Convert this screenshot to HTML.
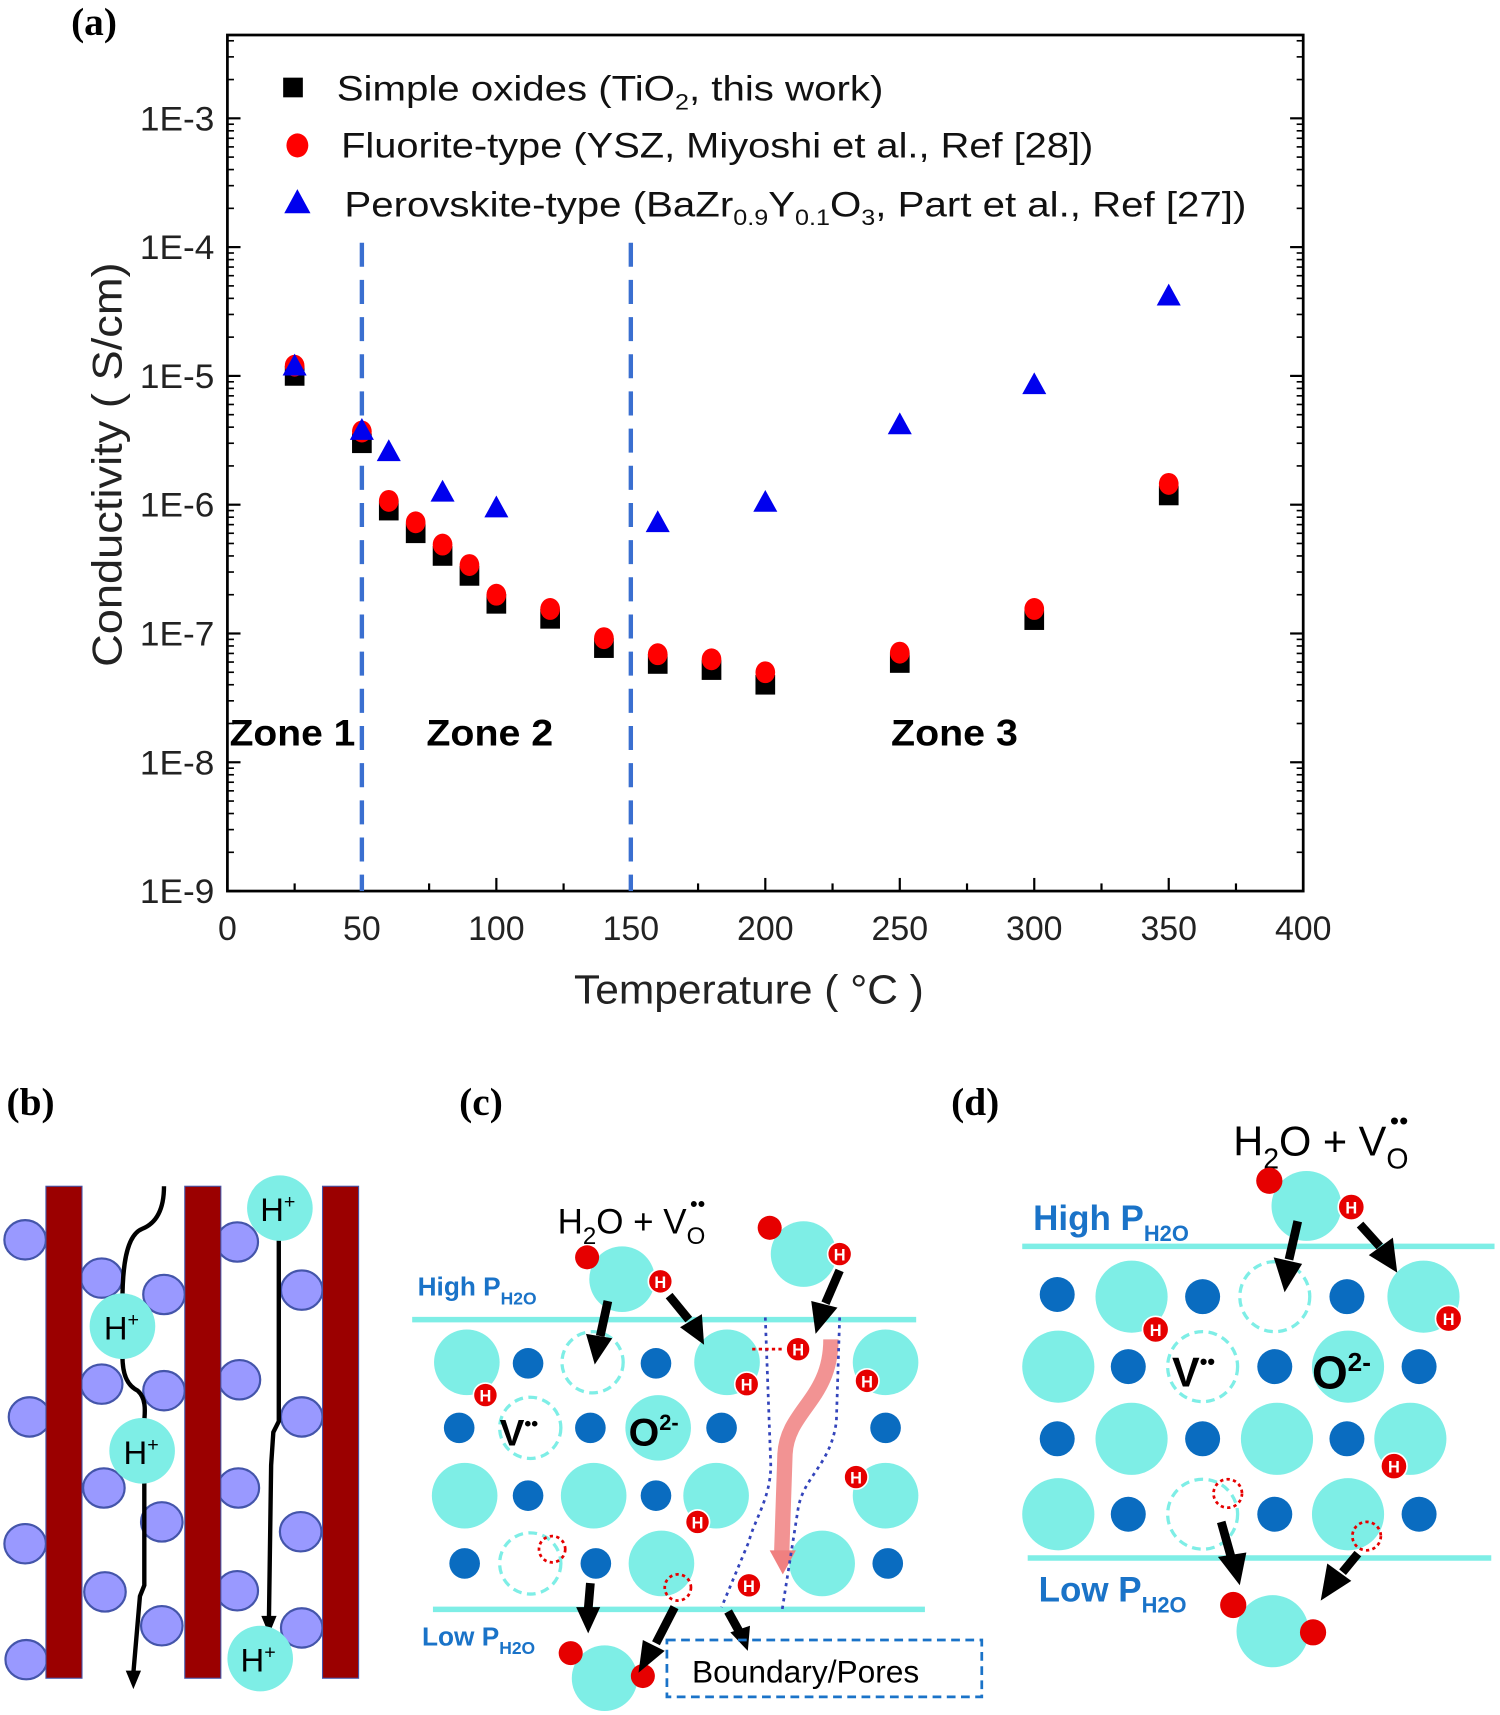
<!DOCTYPE html>
<html><head><meta charset="utf-8"><style>
html,body{margin:0;padding:0;background:#fff;}
svg{display:block;font-family:"Liberation Sans",sans-serif;}
</style></head><body>
<svg id="fig" width="1500" height="1715" viewBox="0 0 1372 1568.6" xmlns="http://www.w3.org/2000/svg">
<rect width="1372" height="1568.6" fill="#fff"/>
<text x="65" y="32" font-family="Liberation Serif" font-weight="bold" font-size="36">(a)</text>
<g id="chart"></g>

<!-- Panel b -->
<g>
<text x="6" y="1020" font-family="Liberation Serif" font-weight="bold" font-size="36">(b)</text>
<g fill="#9999ff" stroke="#4455aa" stroke-width="2">
<ellipse cx="23" cy="1134" rx="19" ry="18"/><ellipse cx="27" cy="1296" rx="19" ry="18"/><ellipse cx="23" cy="1412" rx="19" ry="18"/><ellipse cx="24" cy="1518" rx="19" ry="18"/>
<ellipse cx="93" cy="1169" rx="19" ry="18"/><ellipse cx="93" cy="1266" rx="19" ry="18"/><ellipse cx="95" cy="1361" rx="19" ry="18"/><ellipse cx="96" cy="1456" rx="19" ry="18"/>
<ellipse cx="150" cy="1184" rx="19" ry="18"/><ellipse cx="150" cy="1272" rx="19" ry="18"/><ellipse cx="148" cy="1392" rx="19" ry="18"/><ellipse cx="148" cy="1487" rx="19" ry="18"/>
<ellipse cx="217" cy="1136" rx="19" ry="18"/><ellipse cx="219" cy="1262" rx="19" ry="18"/><ellipse cx="218" cy="1361" rx="19" ry="18"/><ellipse cx="217" cy="1455" rx="19" ry="18"/>
<ellipse cx="276" cy="1180" rx="19" ry="18"/><ellipse cx="276" cy="1296" rx="19" ry="18"/><ellipse cx="275" cy="1401" rx="19" ry="18"/><ellipse cx="276" cy="1489" rx="19" ry="18"/>
</g>
<g fill="#9b0000" stroke="#4455aa" stroke-width="1">
<rect x="42" y="1085" width="33" height="450"/><rect x="169" y="1085" width="33" height="450"/><rect x="295" y="1085" width="33" height="450"/>
</g>
<g fill="none" stroke="#000" stroke-width="4">
<path d="M150 1085 C150 1110 140 1120 130 1124 C115 1130 112 1160 112 1190"/>
<path d="M112 1240 C112 1260 118 1268 126 1272 C135 1280 132 1295 132 1300"/>
<path d="M132 1355 L132 1450 L128 1460 L122 1530"/>
<path d="M255 1133 L255 1300 L250 1310 L248 1340 L246 1480"/>
</g>
<path d="M115 1528 L129 1528 L122 1545Z M239 1478 L253 1478 L246 1495Z" fill="#000"/>
<g fill="#7eeee6"><circle cx="112" cy="1213" r="30"/><circle cx="130" cy="1327" r="30"/><circle cx="256" cy="1105" r="30"/><circle cx="238" cy="1517" r="30"/></g>
<g font-size="30" fill="#000"><text x="95" y="1225">H<tspan font-size="18" dy="-12">+</tspan></text><text x="113" y="1339">H<tspan font-size="18" dy="-12">+</tspan></text><text x="238" y="1117">H<tspan font-size="18" dy="-12">+</tspan></text><text x="220" y="1529">H<tspan font-size="18" dy="-12">+</tspan></text></g>
</g>

<!-- Panel c -->
<g>
<text x="420" y="1020" font-family="Liberation Serif" font-weight="bold" font-size="36">(c)</text>
<line x1="377" y1="1207" x2="838" y2="1207" stroke="#7eeee6" stroke-width="5"/>
<line x1="396" y1="1472" x2="846" y2="1472" stroke="#7eeee6" stroke-width="5"/>
<text x="382" y="1185" font-size="24" font-weight="bold" fill="#1a73c8">High P<tspan font-size="16" dy="8">H2O</tspan></text>
<text x="386" y="1505" font-size="24" font-weight="bold" fill="#1a73c8">Low P<tspan font-size="16" dy="8">H2O</tspan></text>
<text x="510" y="1128" font-size="32">H<tspan font-size="22" dy="10">2</tspan><tspan dy="-10">O + V</tspan><tspan font-size="22" dy="10">O</tspan><tspan font-size="20" dy="-30" dx="-14">••</tspan></text>
<g fill="#7eeee6">
<circle cx="569" cy="1170" r="30"/><circle cx="735" cy="1147" r="30"/>
<circle cx="427" cy="1246" r="30"/><circle cx="665" cy="1246" r="30"/><circle cx="810" cy="1246" r="30"/>
<circle cx="602" cy="1306" r="30"/>
<circle cx="425" cy="1368" r="30"/><circle cx="543" cy="1368" r="30"/><circle cx="655" cy="1368" r="30"/><circle cx="810" cy="1368" r="30"/>
<circle cx="605" cy="1430" r="30"/><circle cx="752" cy="1430" r="30"/>
<circle cx="553" cy="1535" r="30"/>
</g>
<g fill="none" stroke="#7eeee6" stroke-width="3" stroke-dasharray="8 5">
<circle cx="542" cy="1246" r="28"/><circle cx="485" cy="1306" r="28"/><circle cx="485" cy="1430" r="28"/>
</g>
<g fill="#0a6cc0">
<circle cx="483" cy="1247" r="14"/><circle cx="600" cy="1247" r="14"/>
<circle cx="420" cy="1306" r="14"/><circle cx="540" cy="1306" r="14"/><circle cx="660" cy="1306" r="14"/><circle cx="810" cy="1306" r="14"/>
<circle cx="483" cy="1368" r="14"/><circle cx="600" cy="1368" r="14"/>
<circle cx="425" cy="1430" r="14"/><circle cx="545" cy="1430" r="14"/><circle cx="812" cy="1430" r="14"/>
</g>
<text x="457" y="1322" font-size="34" font-weight="bold">V<tspan font-size="18" dy="-14">••</tspan></text>
<text x="575" y="1322" font-size="36" font-weight="bold">O<tspan font-size="20" dy="-14">2-</tspan></text>
<path d="M760 1225 C760 1280 720 1290 718 1330 L715 1420" fill="none" stroke="#f08080" stroke-width="14" opacity="0.85"/>
<path d="M704 1418 L728 1418 L716 1440Z" fill="#f08080"/>
<g fill="none" stroke="#3344bb" stroke-width="2.5" stroke-dasharray="3 4">
<path d="M700 1205 L705 1340 C705 1370 690 1390 685 1410 L660 1470"/>
<path d="M768 1205 L765 1300 C760 1340 735 1350 730 1380 L715 1475"/>
</g>
<line x1="688" y1="1234" x2="718" y2="1234" stroke="#e60000" stroke-width="2.5" stroke-dasharray="3 3"/>
<g fill="#e60000"><circle cx="537" cy="1150" r="11"/><circle cx="704" cy="1123" r="11"/><circle cx="522" cy="1512" r="11"/><circle cx="588" cy="1533" r="11"/></g>
<g class="hp" fill="#e60000" stroke="#fff" stroke-width="1.5">
<circle cx="604" cy="1172" r="11"/><circle cx="768" cy="1147" r="11"/><circle cx="730" cy="1234" r="11"/><circle cx="683" cy="1266" r="11"/><circle cx="793" cy="1263" r="11"/><circle cx="444" cy="1276" r="11"/><circle cx="783" cy="1351" r="11"/><circle cx="638" cy="1392" r="11"/><circle cx="685" cy="1450" r="11"/>
</g>
<g fill="none" stroke="#e60000" stroke-width="2.5" stroke-dasharray="3 3"><circle cx="505" cy="1417" r="12"/><circle cx="620" cy="1452" r="12"/></g>
<g stroke="#000" stroke-width="8" fill="none">
<line x1="556" y1="1190" x2="549" y2="1222"/><line x1="612" y1="1185" x2="630" y2="1207"/><line x1="768" y1="1162" x2="755" y2="1192"/>
<line x1="540" y1="1448" x2="538" y2="1472"/><line x1="617" y1="1470" x2="600" y2="1503"/><line x1="666" y1="1474" x2="676" y2="1492"/>
</g>
<g fill="#000"><path d="M536 1220 L560 1224 L544 1248Z"/><path d="M622 1214 L642 1202 L644 1230Z"/><path d="M742 1190 L766 1196 L746 1220Z"/><path d="M527 1470 L549 1470 L538 1494Z"/><path d="M588 1500 L608 1510 L584 1530Z"/><path d="M668 1493 L686 1487 L684 1510Z"/></g>
<rect x="610" y="1500" width="288" height="52" fill="none" stroke="#1a73c8" stroke-width="2.5" stroke-dasharray="8 5"/>
<text x="633" y="1539" font-size="29">Boundary/Pores</text>
</g>

<!-- Panel d -->
<g>
<text x="870" y="1020" font-family="Liberation Serif" font-weight="bold" font-size="36">(d)</text>
<line x1="935" y1="1140" x2="1367" y2="1140" stroke="#7eeee6" stroke-width="5"/>
<line x1="940" y1="1425" x2="1364" y2="1425" stroke="#7eeee6" stroke-width="5"/>
<text x="945" y="1125" font-size="32" font-weight="bold" fill="#1a73c8">High P<tspan font-size="20" dy="10">H2O</tspan></text>
<text x="950" y="1465" font-size="32" font-weight="bold" fill="#1a73c8">Low P<tspan font-size="20" dy="10">H2O</tspan></text>
<text x="1128" y="1057" font-size="38">H<tspan font-size="26" dy="12">2</tspan><tspan dy="-12">O + V</tspan><tspan font-size="26" dy="12">O</tspan><tspan font-size="24" dy="-36" dx="-17">••</tspan></text>
<g fill="#7eeee6">
<circle cx="1195" cy="1103" r="32"/>
<circle cx="1035" cy="1186" r="33"/><circle cx="1302" cy="1186" r="33"/>
<circle cx="968" cy="1250" r="33"/><circle cx="1233" cy="1250" r="33"/>
<circle cx="1035" cy="1316" r="33"/><circle cx="1168" cy="1316" r="33"/><circle cx="1290" cy="1316" r="33"/>
<circle cx="968" cy="1385" r="33"/><circle cx="1233" cy="1385" r="33"/>
<circle cx="1164" cy="1492" r="33"/>
</g>
<g fill="none" stroke="#7eeee6" stroke-width="3" stroke-dasharray="8 5"><circle cx="1166" cy="1186" r="32"/><circle cx="1100" cy="1250" r="32"/><circle cx="1100" cy="1385" r="32"/></g>
<g fill="#0a6cc0">
<circle cx="967" cy="1184" r="16"/><circle cx="1100" cy="1186" r="16"/><circle cx="1232" cy="1186" r="16"/>
<circle cx="1032" cy="1250" r="16"/><circle cx="1166" cy="1250" r="16"/><circle cx="1298" cy="1250" r="16"/>
<circle cx="967" cy="1316" r="16"/><circle cx="1100" cy="1316" r="16"/><circle cx="1232" cy="1316" r="16"/>
<circle cx="1032" cy="1385" r="16"/><circle cx="1166" cy="1385" r="16"/><circle cx="1298" cy="1385" r="16"/>
</g>
<text x="1072" y="1268" font-size="38" font-weight="bold">V<tspan font-size="20" dy="-16">••</tspan></text>
<text x="1200" y="1270" font-size="42" font-weight="bold">O<tspan font-size="24" dy="-16">2-</tspan></text>
<g fill="#e60000"><circle cx="1161" cy="1080" r="12"/><circle cx="1128" cy="1468" r="12"/><circle cx="1201" cy="1493" r="12"/></g>
<g class="hp" fill="#e60000" stroke="#fff" stroke-width="1.5"><circle cx="1236" cy="1104" r="12"/><circle cx="1325" cy="1206" r="12"/><circle cx="1057" cy="1216" r="12"/><circle cx="1275" cy="1341" r="12"/></g>
<g fill="none" stroke="#e60000" stroke-width="2.5" stroke-dasharray="3 3"><circle cx="1123" cy="1366" r="13"/><circle cx="1250" cy="1405" r="13"/></g>
<g stroke="#000" stroke-width="8" fill="none">
<line x1="1187" y1="1117" x2="1179" y2="1152"/><line x1="1244" y1="1120" x2="1262" y2="1140"/>
<line x1="1117" y1="1392" x2="1126" y2="1424"/><line x1="1242" y1="1421" x2="1228" y2="1438"/>
</g>
<g fill="#000"><path d="M1165 1150 L1191 1156 L1175 1182Z"/><path d="M1252 1148 L1274 1132 L1278 1164Z"/><path d="M1114 1424 L1140 1420 L1134 1450Z"/><path d="M1214 1430 L1236 1446 L1208 1464Z"/></g>
</g>
</svg>

<script>
const seriesXTi = [25,50,60,70,80,90,100,120,140,160,180,200,250,300,350];
const valuesTiO2 = [1.0e-5,3.0e-6,9.0e-7,6.0e-7,4.0e-7,2.8e-7,1.7e-7,1.3e-7,7.7e-8,5.8e-8,5.2e-8,4.0e-8,5.9e-8,1.27e-7,1.18e-6];
const valuesYSZ = [1.2e-5,3.7e-6,1.07e-6,7.3e-7,4.9e-7,3.4e-7,2.0e-7,1.55e-7,9.2e-8,6.9e-8,6.3e-8,5.0e-8,7.1e-8,1.55e-7,1.45e-6];
const seriesXBZY = [25,50,60,80,100,160,200,250,300,350];
const valuesBZY = [1.2e-5,3.8e-6,2.6e-6,1.26e-6,9.5e-7,7.3e-7,1.05e-6,4.2e-6,8.6e-6,4.2e-5];
const xTickLabels = [0,50,100,150,200,250,300,350,400];
const yTickExps = [-9,-8,-7,-6,-5,-4,-3];
const zoneBoundaries = [50,150];

const NS="http://www.w3.org/2000/svg";
const g=document.getElementById('chart');
const L=208,R=1192,T=32,B=815,DEC=117.8;
function xs(t){return L+t/400*(R-L);}
function ys(v){return B-(Math.log10(v)+9)*DEC;}
function mk(tag,attrs,parent){const e=document.createElementNS(NS,tag);for(const k in attrs)e.setAttribute(k,attrs[k]);(parent||g).appendChild(e);return e;}
function sp(parent,txt,attrs){const s=mk('tspan',attrs||{},parent);s.textContent=txt;return s;}

document.querySelectorAll('.hp circle').forEach(c=>{
  const t=mk('text',{x:c.getAttribute('cx'),y:+c.getAttribute('cy')+6,'text-anchor':'middle','font-size':15,'font-weight':'bold',fill:'#fff'},c.parentNode.parentNode);
  t.textContent='H';
});

const frame=mk('rect',{x:L,y:T,width:R-L,height:B-T,fill:'none',stroke:'#000','stroke-width':2.5});



yTickExps.forEach(e=>{
  const y=ys(Math.pow(10,e));
  mk('line',{x1:L,y1:y,x2:L+12,y2:y,stroke:'#000','stroke-width':2});
  mk('line',{x1:R,y1:y,x2:R-12,y2:y,stroke:'#000','stroke-width':2});
  const t=mk('text',{x:L-12,y:y+11,'text-anchor':'end','font-size':31,fill:'#222',textLength:68,lengthAdjust:'spacingAndGlyphs'});
  t.textContent='1E'+e;
  
  
});
for(let e=-9;e<-2;e++){for(let m=2;m<=9;m++){const v=m*Math.pow(10,e);const y=ys(v);if(y<T)continue;
  mk('line',{x1:L,y1:y,x2:L+6,y2:y,stroke:'#000','stroke-width':1.5});
  mk('line',{x1:R,y1:y,x2:R-6,y2:y,stroke:'#000','stroke-width':1.5});}}
for(let t=0;t<=400;t+=25){const x=xs(t);const len=t%50===0?12:7;
  mk('line',{x1:x,y1:B,x2:x,y2:B-len,stroke:'#000','stroke-width':2});}
xTickLabels.forEach(t=>{
  const tx=mk('text',{x:xs(t),y:B+45,'text-anchor':'middle','font-size':31,fill:'#222'});
  tx.textContent=t;
  
  
});
const xt=mk('text',{x:685,y:918,'text-anchor':'middle','font-size':37,fill:'#222',textLength:320,lengthAdjust:'spacingAndGlyphs'});
xt.textContent='Temperature ( °C )';


const yt=mk('text',{x:0,y:0,'text-anchor':'middle','font-size':38,fill:'#222',transform:'translate(111,425) rotate(-90)',textLength:370,lengthAdjust:'spacingAndGlyphs'});
yt.textContent='Conductivity ( S/cm)';



zoneBoundaries.forEach(t=>{
  const l=mk('line',{x1:xs(t),y1:222,x2:xs(t),y2:B,stroke:'#3a6fd0','stroke-width':4,'stroke-dasharray':'22 12'});
  
  
});
[['Zone 1',210,115],['Zone 2',390,116],['Zone 3',815,116]].forEach(z=>{
  const t=mk('text',{x:z[1],y:682,'font-size':34,'font-weight':'bold',fill:'#000',textLength:z[2],lengthAdjust:'spacingAndGlyphs'});
  t.textContent=z[0];
  
  
});

seriesXTi.forEach((t,i)=>{
  const s=mk('rect',{x:xs(t)-9,y:ys(valuesTiO2[i])-9,width:18,height:18,fill:'#000'});
  
  
});
seriesXTi.forEach((t,i)=>{
  const c=mk('ellipse',{cx:xs(t),cy:ys(valuesYSZ[i]),rx:9,ry:10,fill:'#ff0000'});
  
  
});
seriesXBZY.forEach((t,i)=>{
  const x=xs(t),y=ys(valuesBZY[i]);
  const p=mk('path',{d:'M'+x+' '+(y-11)+' L'+(x+11)+' '+(y+9)+' L'+(x-11)+' '+(y+9)+'Z',fill:'#0000ee'});
  
  
});

const lg=mk('g',{});


mk('rect',{x:259,y:71,width:18,height:18,fill:'#000'},lg);
mk('ellipse',{cx:272,cy:133,rx:10,ry:11,fill:'#ff0000'},lg);
mk('path',{d:'M272 173 L284 195 L260 195Z',fill:'#0000ee'},lg);
const t1=mk('text',{x:308,y:92,'font-size':32,fill:'#111',textLength:500,lengthAdjust:'spacingAndGlyphs'},lg);
sp(t1,'Simple oxides (TiO');sp(t1,'2',{'font-size':20,dy:8});sp(t1,', this work)',{dy:-8});
const t2=mk('text',{x:312,y:144,'font-size':32,fill:'#111',textLength:688,lengthAdjust:'spacingAndGlyphs'},lg);
t2.textContent='Fluorite-type (YSZ, Miyoshi et al., Ref [28])';
const t3=mk('text',{x:315,y:198,'font-size':32,fill:'#111',textLength:825,lengthAdjust:'spacingAndGlyphs'},lg);
sp(t3,'Perovskite-type (BaZr');sp(t3,'0.9',{'font-size':20,dy:8});sp(t3,'Y',{dy:-8});sp(t3,'0.1',{'font-size':20,dy:8});sp(t3,'O',{dy:-8});sp(t3,'3',{'font-size':20,dy:8});sp(t3,', Part et al., Ref [27])',{dy:-8});
</script>
</body></html>
